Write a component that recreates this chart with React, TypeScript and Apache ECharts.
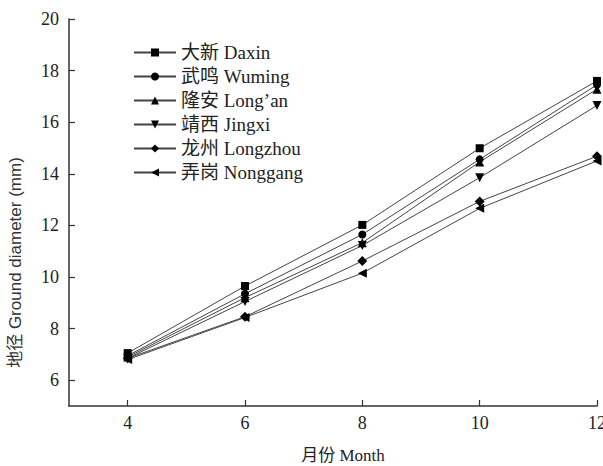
import React, { useEffect, useRef } from "react";
import * as echarts from "echarts";

const months = [4, 6, 8, 10, 12];
const daxin = [7.05, 9.65, 12.02, 14.99, 17.6];
const wuming = [6.95, 9.35, 11.65, 14.56, 17.45];
const longan = [6.9, 9.2, 11.33, 14.46, 17.28];
const jingxi = [6.85, 9.05, 11.22, 13.85, 16.65];
const longzhou = [6.85, 8.46, 10.62, 12.93, 14.68];
const nonggang = [6.8, 8.43, 10.15, 12.66, 14.5];

const seriesNames = ["大新 Daxin", "武鸣 Wuming", "隆安 Long’an", "靖西 Jingxi", "龙州 Longzhou", "弄岗 Nonggang"];
const seriesValues = [daxin, wuming, longan, jingxi, longzhou, nonggang];
const symbols = ["rect", "circle", "triangle", "triangle", "diamond", "triangle"];
const rotations = [0, 0, 0, 180, 0, 90];
const sizes = [8, 8, 9, 9, 10, 9];

const xTicks = [4, 6, 8, 10, 12];
const yTicks = [6, 8, 10, 12, 14, 16, 18, 20];

const SERIF = "'Liberation Serif', 'Times New Roman', 'Noto Sans CJK SC', serif";
const SANS = "'Liberation Sans', Arial, 'Noto Sans CJK SC', sans-serif";

export default function App() {
  const ref = useRef<HTMLDivElement>(null);
  useEffect(() => {
    document.body.style.margin = "0";
    if (!ref.current) return;
    const chart = echarts.init(ref.current, null, { renderer: "svg" });
    chart.setOption({
      animation: false,
      backgroundColor: "#fff",
      grid: { left: 69, right: 6, top: 19, bottom: 60, containLabel: false, outerBoundsMode: "none" },
      legend: {
        orient: "vertical",
        left: 133,
        top: 43,
        padding: 0,
        itemWidth: 42,
        itemHeight: 10,
        itemGap: 5,
        textStyle: { fontFamily: SERIF, fontSize: 19, color: "#222", lineHeight: 18 },
        data: seriesNames,
      },
      xAxis: {
        type: "value",
        min: 3,
        max: 12,
        name: "月份 Month",
        nameLocation: "middle",
        nameGap: 41,
        nameTextStyle: { fontFamily: SERIF, fontSize: 17, color: "#222", padding: [0, 0, 0, 20] },
        axisLine: { lineStyle: { color: "#333", width: 1.5 } },
        axisTick: { inside: true, length: 6, customValues: xTicks, lineStyle: { color: "#333", width: 1.2 } },
        axisLabel: { customValues: xTicks, fontFamily: SERIF, fontSize: 18, color: "#222", margin: 8 },
        splitLine: { show: false },
      },
      yAxis: {
        type: "value",
        min: 5,
        max: 20,
        name: "地径 Ground diameter (mm)",
        nameLocation: "middle",
        nameGap: 45,
        nameTextStyle: { fontFamily: SANS, fontSize: 17, color: "#333", padding: [0, 100, 0, 0] },
        axisLine: { show: true, lineStyle: { color: "#333", width: 1.5 } },
        axisTick: { show: true, inside: true, length: 6, customValues: yTicks, lineStyle: { color: "#333", width: 1.2 } },
        axisLabel: { customValues: yTicks, fontFamily: SERIF, fontSize: 18, color: "#222", margin: 10 },
        splitLine: { show: false },
      },
      series: seriesNames.map((name, i) => ({
        name,
        type: "line",
        data: months.map((m, j) => [m, seriesValues[i][j]]),
        symbol: symbols[i],
        symbolRotate: rotations[i],
        symbolSize: sizes[i],
        showAllSymbol: true,
        itemStyle: { color: "#000" },
        lineStyle: { color: "#444", width: 1 },
      })),
    });
    return () => chart.dispose();
  }, []);
  return <div ref={ref} style={{ width: 603, height: 466 }} />;
}
